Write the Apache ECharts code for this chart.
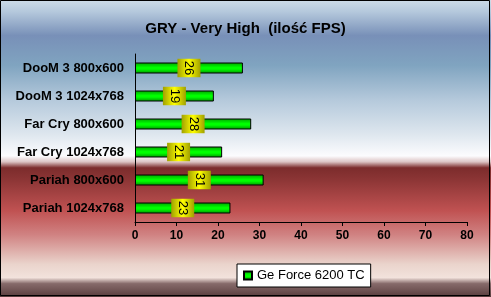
<!DOCTYPE html>
<html><head><meta charset="utf-8">
<script src="https://cdn.jsdelivr.net/npm/echarts@6/dist/echarts.min.js"></script>
<style>html,body{margin:0;padding:0;}#c{width:491px;height:297px;}</style>
</head><body><div id="c"></div>
<script>
const categories = ["DooM 3 800x600","DooM 3 1024x768","Far Cry 800x600","Far Cry 1024x768","Pariah 800x600","Pariah 1024x768"];
const values = [26, 19, 28, 21, 31, 23];
const seriesName = "Ge Force 6200 TC";
const titleText = "GRY - Very High  (ilość FPS)";

const chart = echarts.init(document.getElementById('c'), null, {renderer:'canvas'});
const bg = new echarts.graphic.LinearGradient(0,0,0,1,[
  {offset:0.00,color:'#cddce8'},
  {offset:0.04,color:'#b4c8dc'},
  {offset:0.12,color:'#7890b8'},
  {offset:0.22,color:'#80a4c0'},
  {offset:0.34,color:'#b6cadc'},
  {offset:0.45,color:'#dde6ee'},
  {offset:0.525,color:'#fcfcfe'},
  {offset:0.545,color:'#dcc4c4'},
  {offset:0.565,color:'#7c2c2c'},
  {offset:0.60,color:'#8a3434'},
  {offset:0.71,color:'#c05252'},
  {offset:0.79,color:'#d08282'},
  {offset:0.89,color:'#ead4cc'},
  {offset:0.935,color:'#f2e2dc'},
  {offset:0.955,color:'#866a6a'},
  {offset:1.00,color:'#583c3c'}
]);
chart.setOption({
  animation:false,
  graphic:[
    {type:'rect',z:-10,silent:true,shape:{x:0,y:0,width:491,height:297},style:{fill:bg}},
    {type:'rect',z:100,silent:true,shape:{x:0.5,y:0.5,width:489,height:295},style:{fill:'none',stroke:'#000',lineWidth:1}}
  ],
  title:{text:titleText,left:'center',top:16,textStyle:{fontFamily:'Liberation Sans',fontSize:15,fontWeight:'bold',color:'#000'}},
  legend:{data:[seriesName],left:237,top:264,orient:'horizontal',backgroundColor:'#fff',borderColor:'#000',borderWidth:1,borderRadius:0,padding:[5,6,5,6],itemWidth:8,itemHeight:8,itemGap:4,icon:'rect',
    textStyle:{fontFamily:'Liberation Sans',fontSize:13,color:'#000',padding:[0,0,0,0]}},
  grid:{left:135,right:24,top:54,bottom:75,containLabel:false},
  xAxis:{type:'value',min:0,max:80,interval:10,
    axisLine:{show:true,lineStyle:{color:'#000',width:1}},
    axisTick:{show:true,length:4,lineStyle:{color:'#000'}},
    splitLine:{show:false},
    axisLabel:{margin:8,fontFamily:'Liberation Sans',fontSize:12,fontWeight:'bold',color:'#000'}},
  yAxis:{type:'category',data:categories,inverse:true,
    axisLine:{show:true,lineStyle:{color:'#000',width:1}},
    axisTick:{show:false},
    axisLabel:{margin:11,fontFamily:'Liberation Sans',fontSize:13,fontWeight:'bold',color:'#000'}},
  series:[{
    name:seriesName,type:'bar',data:values,barWidth:11,
    itemStyle:{color:new echarts.graphic.LinearGradient(0,0,0,1,[
      {offset:0,color:'#00a000'},{offset:0.45,color:'#00ff00'},{offset:0.6,color:'#00ff00'},{offset:1,color:'#009000'}]),
      borderColor:'#000',borderWidth:1},
    label:{show:true,position:'inside',rotate:-90,fontFamily:'Liberation Sans',fontSize:13,color:'#000',
      backgroundColor:new echarts.graphic.LinearGradient(0,0,0,1,[
        {offset:0,color:'#a0a000'},{offset:0.5,color:'#ffff00'},{offset:1,color:'#a0a000'}]),
      padding:[5,2,6,2],lineHeight:12}
  }]
});
</script></body></html>
